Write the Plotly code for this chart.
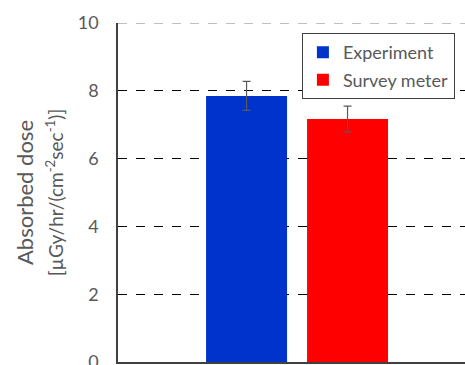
import plotly.graph_objects as go

series = ["Experiment", "Survey meter"]
values = [7.85, 7.17]
errors = [0.43, 0.38]
colors = ["#0033CC", "#FF0000"]
y_ticks = [0, 2, 4, 6, 8, 10]

fig = go.Figure()
for name, v, e, c in zip(series, values, errors, colors):
    fig.add_trace(go.Bar(
        x=[""], y=[v], name=name, legendgroup=name,
        marker=dict(color=c, line=dict(width=0)),
        error_y=dict(type="data", array=[e], visible=True, color="#595959",
                     thickness=1.2, width=4),
    ))

fig.add_shape(type="line", xref="paper", yref="y", x0=0, x1=1, y0=10, y1=10,
              line=dict(color="#808080", width=1, dash="dash"))

fig.update_layout(
    width=465, height=365,
    margin=dict(l=118, r=0, t=23, b=3, autoexpand=False),
    paper_bgcolor="white", plot_bgcolor="white",
    barmode="group", bargap=0.418, bargroupgap=0.198,
    font=dict(family="Lato", color="#595959"),
    showlegend=True,
    legend=dict(x=0.53, y=0.97, xanchor="left", yanchor="top",
                bgcolor="white", bordercolor="#404040", borderwidth=1,
                font=dict(size=18, color="#595959"), tracegroupgap=1,
                itemwidth=30),
    xaxis=dict(range=[-0.516, 0.484], showline=True, linecolor="#404040",
               linewidth=1.5, showticklabels=False, showgrid=False,
               automargin=False),
    yaxis=dict(range=[0, 10], tickvals=y_ticks, showline=True,
               linecolor="#404040", linewidth=1.5, showgrid=True,
               gridcolor="black", griddash="dash", gridwidth=1,
               zeroline=False, tickfont=dict(size=18, color="#595959"),
               ticklabelstandoff=14, ticklabeloverflow="allow",
               automargin=False,
               title=dict(text="<span style='font-size:22px'>Absorbed dose</span><br><span style='font-size:19px'>[µGy/hr/(cm<sup>-2</sup>sec<sup>-1</sup>)]</span>",
                          font=dict(size=23, color="#595959"), standoff=8)),
)

fig.write_html("out.html")
